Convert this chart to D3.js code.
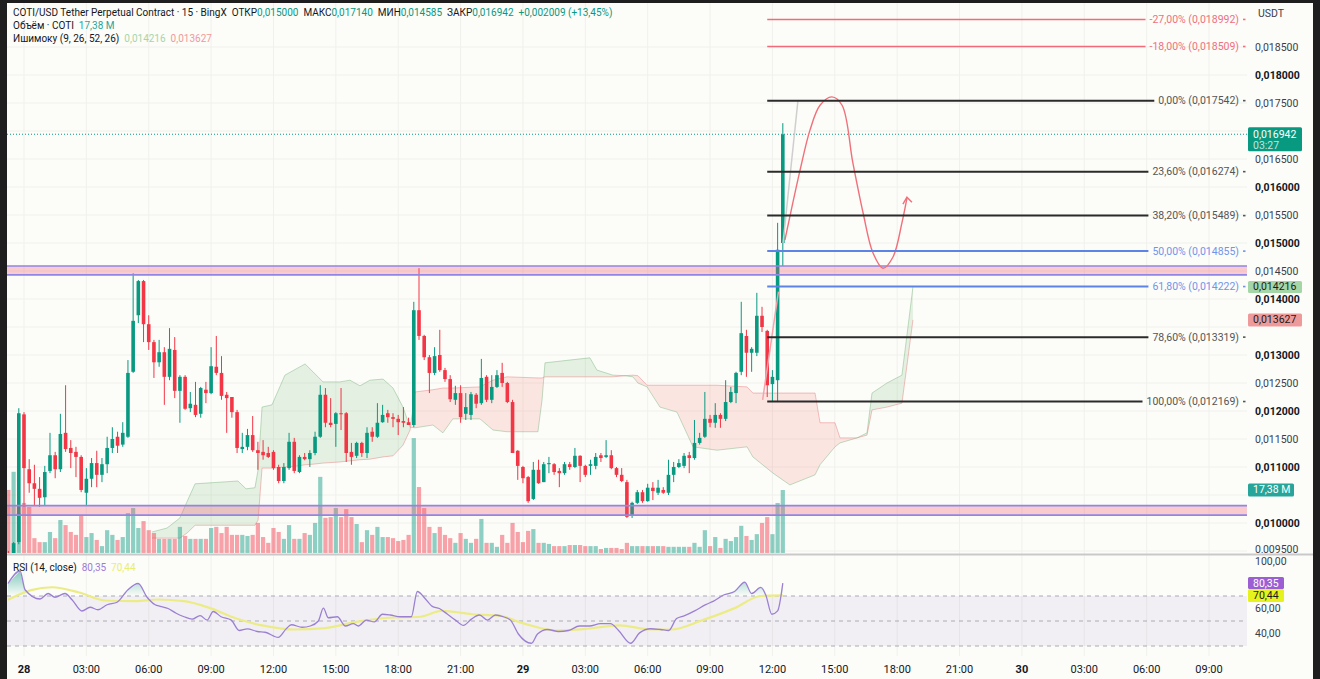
<!DOCTYPE html>
<html><head><meta charset="utf-8">
<script src="https://cdn.jsdelivr.net/npm/d3@7"></script>
<style>
body{margin:0;background:#1e1e1e}
svg{display:block}
text{font-family:Roboto,"Liberation Sans",sans-serif}
</style></head>
<body><svg id="c" width="1320" height="679"></svg>
<script>
// ---------------- DATA ----------------
const timeLabels = ["28","03:00","06:00","09:00","12:00","15:00","18:00","21:00","29","03:00","06:00","09:00","12:00","15:00","18:00","21:00","30","03:00","06:00","09:00"];
const timeLabelHours = [0,3,6,9,12,15,18,21,24,27,30,33,36,39,42,45,48,51,54,57];
const boldTimeLabels = ["28","29","30"];
const firstBarHour = -0.75, barHours = 0.25;   // 15-minute bars
const priceTicks = [0.0095,0.0100,0.0105,0.0110,0.0115,0.0120,0.0125,0.0130,0.0135,0.0140,0.0145,0.0150,0.0155,0.0160,0.0165,0.0170,0.0175,0.0180,0.0185];
// [open, high, low, close]
const ohlc = [
[0.00945,0.00950,0.00925,0.00930],[0.00943,0.00966,0.00941,0.00964],[0.00966,0.01205,0.00962,0.01196],[0.01194,0.01198,0.01029,0.01098],[0.01096,0.01114,0.01054,0.01071],
[0.01071,0.01104,0.01032,0.01061],[0.01061,0.01082,0.01029,0.01045],[0.01046,0.01102,0.01032,0.01091],[0.01093,0.01161,0.01089,0.01121],[0.01121,0.01127,0.01080,0.01096],
[0.01096,0.01195,0.01091,0.01159],[0.01161,0.01246,0.01127,0.01132],[0.01134,0.01148,0.01098,0.01125],[0.01127,0.01136,0.01082,0.01118],[0.01118,0.01121,0.01055,0.01059],
[0.01054,0.01098,0.01032,0.01079],[0.01079,0.01116,0.01064,0.01107],[0.01107,0.01129,0.01064,0.01086],[0.01086,0.01116,0.01073,0.01105],[0.01105,0.01154,0.01089,0.01134],
[0.01134,0.01171,0.01125,0.01150],[0.01154,0.01163,0.01125,0.01138],[0.01140,0.01180,0.01136,0.01161],[0.01154,0.01291,0.01152,0.01268],[0.01270,0.01446,0.01268,0.01361],
[0.01371,0.01434,0.01357,0.01432],[0.01432,0.01434,0.01323,0.01355],[0.01355,0.01371,0.01309,0.01323],[0.01323,0.01327,0.01259,0.01287],[0.01287,0.01327,0.01279,0.01305],
[0.01305,0.01314,0.01211,0.01261],[0.01261,0.01348,0.01255,0.01311],[0.01309,0.01332,0.01223,0.01236],[0.01236,0.01264,0.01179,0.01261],[0.01261,0.01264,0.01202,0.01204],
[0.01205,0.01234,0.01198,0.01213],[0.01211,0.01252,0.01189,0.01193],[0.01195,0.01243,0.01188,0.01241],[0.01238,0.01252,0.01214,0.01232],[0.01232,0.01314,0.01230,0.01280],
[0.01279,0.01334,0.01264,0.01268],[0.01268,0.01298,0.01220,0.01227],[0.01229,0.01234,0.01161,0.01223],[0.01225,0.01225,0.01188,0.01198],[0.01198,0.01202,0.01125,0.01134],
[0.01132,0.01161,0.01125,0.01136],[0.01136,0.01168,0.01130,0.01157],[0.01157,0.01191,0.01127,0.01130],[0.01130,0.01145,0.01095,0.01125],[0.01127,0.01148,0.01113,0.01121],
[0.01125,0.01136,0.01116,0.01118],[0.01127,0.01130,0.01095,0.01098],[0.01100,0.01104,0.01071,0.01075],[0.01075,0.01107,0.01071,0.01100],[0.01098,0.01161,0.01095,0.01145],
[0.01145,0.01152,0.01089,0.01093],[0.01091,0.01121,0.01089,0.01118],[0.01118,0.01125,0.01112,0.01114],[0.01114,0.01130,0.01100,0.01125],[0.01125,0.01163,0.01121,0.01154],
[0.01154,0.01246,0.01152,0.01229],[0.01229,0.01241,0.01171,0.01179],[0.01179,0.01223,0.01171,0.01175],[0.01177,0.01198,0.01136,0.01196],[0.01196,0.01241,0.01166,0.01195],
[0.01196,0.01198,0.01109,0.01125],[0.01127,0.01143,0.01104,0.01118],[0.01120,0.01145,0.01116,0.01143],[0.01143,0.01145,0.01118,0.01125],[0.01125,0.01171,0.01116,0.01161],
[0.01163,0.01171,0.01145,0.01154],[0.01154,0.01214,0.01152,0.01179],[0.01180,0.01211,0.01179,0.01193],[0.01196,0.01202,0.01179,0.01189],[0.01189,0.01196,0.01171,0.01186],
[0.01186,0.01193,0.01157,0.01180],[0.01182,0.01207,0.01171,0.01179],[0.01180,0.01188,0.01177,0.01175],[0.01175,0.01395,0.01171,0.01380],[0.01380,0.01455,0.01327,0.01334],
[0.01334,0.01336,0.01291,0.01296],[0.01296,0.01300,0.01232,0.01268],[0.01268,0.01314,0.01264,0.01298],[0.01300,0.01345,0.01270,0.01273],[0.01273,0.01277,0.01252,0.01257],
[0.01257,0.01264,0.01216,0.01221],[0.01220,0.01245,0.01211,0.01232],[0.01232,0.01246,0.01179,0.01189],[0.01195,0.01232,0.01184,0.01207],[0.01193,0.01234,0.01184,0.01230],
[0.01229,0.01232,0.01205,0.01213],[0.01214,0.01293,0.01211,0.01259],[0.01261,0.01264,0.01216,0.01220],[0.01220,0.01264,0.01214,0.01243],[0.01243,0.01273,0.01241,0.01264],
[0.01268,0.01286,0.01243,0.01250],[0.01250,0.01252,0.01214,0.01216],[0.01216,0.01220,0.01125,0.01125],[0.01129,0.01130,0.01077,0.01102],[0.01100,0.01102,0.01071,0.01080],
[0.01082,0.01084,0.01036,0.01039],[0.01043,0.01109,0.01041,0.01095],[0.01095,0.01113,0.01070,0.01071],[0.01073,0.01109,0.01073,0.01105],[0.01105,0.01118,0.01089,0.01107],
[0.01105,0.01107,0.01086,0.01091],[0.01093,0.01098,0.01064,0.01089],[0.01089,0.01109,0.01086,0.01105],[0.01105,0.01109,0.01095,0.01100],[0.01100,0.01134,0.01098,0.01120],
[0.01120,0.01121,0.01073,0.01102],[0.01102,0.01104,0.01082,0.01086],[0.01102,0.01113,0.01086,0.01105],[0.01102,0.01125,0.01096,0.01118],[0.01121,0.01125,0.01109,0.01116],
[0.01118,0.01148,0.01116,0.01121],[0.01121,0.01130,0.01096,0.01098],[0.01098,0.01100,0.01082,0.01086],[0.01086,0.01098,0.01073,0.01075],[0.01073,0.01077,0.01009,0.01011],
[0.01013,0.01038,0.01009,0.01036],[0.01036,0.01059,0.01034,0.01055],[0.01055,0.01059,0.01036,0.01039],[0.01039,0.01070,0.01038,0.01063],[0.01063,0.01073,0.01041,0.01057],
[0.01054,0.01077,0.01050,0.01063],[0.01059,0.01064,0.01052,0.01054],[0.01054,0.01113,0.01050,0.01086],[0.01086,0.01109,0.01073,0.01100],[0.01100,0.01114,0.01098,0.01107],
[0.01102,0.01125,0.01098,0.01120],[0.01121,0.01127,0.01089,0.01116],[0.01116,0.01184,0.01113,0.01143],[0.01143,0.01161,0.01140,0.01152],[0.01154,0.01234,0.01152,0.01186],
[0.01186,0.01193,0.01171,0.01179],[0.01179,0.01214,0.01170,0.01193],[0.01193,0.01196,0.01170,0.01186],[0.01186,0.01255,0.01182,0.01216],[0.01216,0.01243,0.01214,0.01234],
[0.01232,0.01270,0.01214,0.01268],[0.01270,0.01395,0.01264,0.01339],[0.01334,0.01345,0.01261,0.01304],[0.01304,0.01314,0.01270,0.01311],[0.01304,0.01411,0.01298,0.01370],
[0.01370,0.01386,0.01341,0.01350],[0.01343,0.01345,0.01225,0.01246],[0.01248,0.01273,0.01216,0.01261],[0.01255,0.01536,0.01216,0.01488],[0.01500,0.01714,0.01459,0.01694]
];
// volume, millions
const volume = [17.4,22.4,11,13.8,12.7,4.1,3.0,3.0,5.8,4.1, 9.1,7.7,5.8,5.0,10.5,4.4,5.5,3.6,1.9,6.3,
 5.0,3.6,4.4,11.0,12.4,6.9,8.8,6.3,5.5,3.9, 3.9,3.9,3.9,7.2,4.7,3.9,3.9,3.9,3.9,6.9,
 7.2,5.5,7.2,5.0,5.0,5.0,4.7,5.0,8.3,4.4, 2.8,6.9,5.8,3.9,7.7,3.9,3.9,5.5,5.0,8.3,
 21.0,9.7,9.9,12.4,9.9,12.1,9.9,8.0,3.0,6.3, 5.0,7.2,4.4,4.4,4.1,3.3,3.6,5.0,31.7,18.2,
 12.4,7.2,5.5,7.2,5.0,4.1,2.8,5.5,3.9,2.8, 3.9,9.4,2.8,2.8,1.7,5.0,2.8,8.3,5.8,3.0,
 6.1,6.6,2.8,2.8,2.5,1.9,1.9,1.9,2.2,2.2, 2.2,1.9,1.9,1.9,1.1,1.4,1.4,1.4,1.1,2.8,
 1.9,1.9,1.9,1.9,1.9,1.9,1.9,1.7,1.7,1.7, 1.7,1.7,2.8,1.7,6.3,1.9,4.4,1.4,3.9,3.3,
 4.4,7.5,4.7,3.6,5.2,8.3,9.9,5.2,13.8,17.38];
// Ichimoku cloud: [hour, senkou A, senkou B]
const cloud = [
[6.16,0.00984,0.00973],[6.88,0.00991,0.00973],[7.50,0.01009,0.00973],[7.84,0.01038,0.00982],[8.23,0.01070,0.00996],
[10.29,0.01075,0.00996],[10.68,0.01061,0.00996],[11.11,0.01063,0.00996],[11.26,0.01095,0.01005],[11.45,0.01207,0.01098],
[11.93,0.01211,0.01098],[12.55,0.01264,0.01100],[13.18,0.01277,0.01102],[13.52,0.01284,0.01104],[13.90,0.01270,0.01105],
[14.38,0.01252,0.01107],[15.20,0.01252,0.01109],[15.68,0.01255,0.01111],[16.16,0.01245,0.01113],[16.64,0.01255,0.01114],
[17.27,0.01257,0.01118],[17.75,0.01241,0.01120],[18.23,0.01207,0.01139],[18.57,0.01171,0.01166],[18.81,0.01170,0.01234],
[19.67,0.01175,0.01238],[20.15,0.01161,0.01241],[20.63,0.01186,0.01241],[21.93,0.01186,0.01243],[22.56,0.01166,0.01255],
[23.23,0.01163,0.01261],[24.72,0.01163,0.01259],[24.92,0.01220,0.01259],[25.06,0.01286,0.01261],[27.22,0.01295,0.01261],
[27.56,0.01273,0.01261],[28.33,0.01264,0.01261],[28.91,0.01263,0.01263],[29.29,0.01261,0.01264],[29.53,0.01250,0.01263],
[29.97,0.01243,0.01246],[30.59,0.01207,0.01246],[31.41,0.01198,0.01246],[32.18,0.01136,0.01246],[33.33,0.01130,0.01246],
[34.78,0.01136,0.01243],[35.06,0.01118,0.01232],[36.03,0.01089,0.01232],[36.84,0.01068,0.01232],[38.05,0.01086,0.01232],
[38.29,0.01104,0.01179],[39.01,0.01136,0.01179],[39.25,0.01143,0.01152],[40.07,0.01152,0.01152],[40.55,0.01161,0.01157],
[40.79,0.01232,0.01202],[41.51,0.01250,0.01207],[42.23,0.01264,0.01214],[42.76,0.014216,0.013627]
];
// RSI(14) [hour, value] and its moving average
const rsi = [[-0.77,80],[-0.19,90],[0.05,75],[0.77,67.6],[1.16,72],[1.49,69],[1.97,72],[2.31,67],[2.79,58],[3.18,61],[3.56,59],[4.0,63],[4.48,65],[5.0,75],[5.49,80],[5.92,69],[6.31,63],
[6.55,61.7],[6.93,60],[7.32,56.2],[7.7,53.4],[8.09,51.5],[8.47,54.3],[8.81,50.7],[9.1,57.6],[9.48,53.4],[9.97,50.7],[10.35,42.4],[10.74,43.7],[11.22,41.6],[11.6,41],[12.23,36.9],[12.61,43.7],[12.86,47],[13.38,45],[13.77,46],[14.16,50],[14.4,60.3],[14.64,52.6],[15.07,53.4],[15.46,46],[15.84,47.9],[16.08,46],[16.47,50.7],[16.85,49.3],[17.24,55.4],[17.62,54.8],[18.1,53.4],[18.63,53.4],[18.92,73.6],[19.26,68.6],[19.64,61.7],[19.98,60],[20.37,55.4],[20.75,50.7],[21.14,46.5],[21.52,51.5],[21.91,54.8],[22.29,50.7],[22.68,54.8],[23.06,53.4],[23.4,50.7],[23.78,39.6],[24.41,32.2],[24.7,39.6],[25.18,43.2],[25.71,41.6],[26.19,42.4],[26.72,46],[27.2,46],[27.73,47.9],[28.21,47.9],[28.6,42.4],[29.18,32.2],[29.61,40.5],[30.14,43.8],[30.62,43.2],[31.01,42.4],[31.39,52],[31.78,54.3],[32.26,58.1],[32.79,63.1],[33.17,65.9],[33.65,70.8],[34.18,73.6],[34.67,81],[35.0,72],[35.44,76.9],[35.68,70.8],[35.97,55.4],[36.25,58.1],[36.5,80.35]];
const rsiMA = [[-0.77,67],[0.34,74.7],[1.35,77],[2.65,72.8],[3.9,66.4],[5.39,65.9],[6.4,67.2],[7.7,65.9],[8.96,60.3],[10.21,52],[11.46,46.5],[12.95,43.2],[14.49,44.3],[15.98,49.3],[17.53,52.6],[19.07,53.4],[20.08,58.1],[21.57,55.4],[22.82,54.3],[24.07,47.9],[25.57,42.4],[27.11,43.8],[28.65,46.5],[30.14,43.2],[31.15,43.2],[32.64,50.7],[34.18,60.3],[35.44,70],[36.5,70.44]];
// Fibonacci retracement
const fibLabels = ["-27,00%","-18,00%","0,00%","23,60%","38,20%","50,00%","61,80%","78,60%","100,00%"];
const fibPrices = [0.018992,0.018509,0.017542,0.016274,0.015489,0.014855,0.014222,0.013319,0.012169];
const fibKinds  = ["red","red","black","black","black","blue","blue","black","black"];
const fibStartHour = 35.75;
// horizontal zones [top, bottom]
const zones = [[0.01459,0.01443],[0.01031,0.01014]];
// drawn path (forecast) [hour, price]
const forecast = [[36.60,0.01505],[37.33,0.01630],[37.81,0.01702],[38.29,0.01746],[38.86,0.01761],[39.35,0.01746],[39.87,0.01643],[40.36,0.01554],[40.84,0.01482],[41.32,0.01455],[41.80,0.01475],[42.23,0.01536],[42.47,0.01580]];
const greyTrend = [[36.51,0.01500],[37.23,0.01755]];
const pinkTrend = [[35.53,0.01220],[36.29,0.01413]];
const lastClose = 0.016942, spanANow = 0.014216, spanBNow = 0.013627, lastVolume = 17.38, rsiNow = 80.35, rsiMANow = 70.44;

// ---------------- DRAW ----------------
const svg = d3.select("#c");
const UP="#089981", DN="#f23645";
const L=7, R=1247, TOP=3, PB=553;
const x = d3.scaleLinear([0,57],[24,1209]);
const y = d3.scaleLinear([0.0095,0.0185],[551,47]);
const yv = d3.scaleLinear([0,40],[PB,408]);
const yr = d3.scaleLinear([30,70],[646,596]);
const fmt = v => v.toFixed(6).replace(".",",");
const fmt2 = v => v.toFixed(2).replace(".",",");

svg.append("rect").attr("x",L).attr("y",TOP).attr("width",1313-L).attr("height",679-TOP).attr("fill","#fcfcf9");
const defs = svg.append("defs");
defs.append("clipPath").attr("id","pp").append("rect").attr("x",L).attr("y",TOP).attr("width",R-L).attr("height",PB-TOP);
defs.append("clipPath").attr("id","rp").append("rect").attr("x",L).attr("y",556).attr("width",R-L).attr("height",100);
defs.append("clipPath").attr("id","axp").append("rect").attr("x",1247).attr("y",TOP).attr("width",66).attr("height",PB-TOP);

// grid
const grid = svg.append("g").attr("stroke","#f0f0ec").attr("stroke-width",1);
timeLabelHours.forEach(h=>grid.append("line").attr("x1",x(h)).attr("x2",x(h)).attr("y1",TOP).attr("y2",656));
priceTicks.forEach(p=>grid.append("line").attr("x1",L).attr("x2",R).attr("y1",y(p)).attr("y2",y(p)));

const pp = svg.append("g").attr("clip-path","url(#pp)");

// cloud
const cx = d=>x(d[0]);
defs.append("clipPath").attr("id","cAbove").append("path").attr("d",d3.area().x(cx).y0(0).y1(d=>y(d[2]))(cloud));
defs.append("clipPath").attr("id","cBelow").append("path").attr("d",d3.area().x(cx).y0(700).y1(d=>y(d[2]))(cloud));
pp.append("path").attr("d",d3.area().x(cx).y0(d=>y(d[1])).y1(700)(cloud)).attr("clip-path","url(#cAbove)").attr("fill","rgba(67,160,71,0.13)");
pp.append("path").attr("d",d3.area().x(cx).y0(d=>y(d[1])).y1(0)(cloud)).attr("clip-path","url(#cBelow)").attr("fill","rgba(244,67,54,0.12)");
pp.append("path").attr("d",d3.line().x(cx).y(d=>y(d[1]))(cloud)).attr("fill","none").attr("stroke","rgba(120,180,125,0.45)").attr("stroke-width",1);
pp.append("path").attr("d",d3.line().x(cx).y(d=>y(d[2]))(cloud)).attr("fill","none").attr("stroke","rgba(230,120,120,0.45)").attr("stroke-width",1);

// volume
const bars = ohlc.map((d,i)=>({t:firstBarHour+i*barHours,o:d[0],h:d[1],l:d[2],c:d[3],v:volume[i]}));
pp.append("g").selectAll("rect").data(bars).join("rect")
  .attr("x",d=>x(d.t)-2.1).attr("width",4.2)
  .attr("y",d=>yv(d.v)).attr("height",d=>PB-yv(d.v))
  .attr("fill",d=>d.c>=d.o?"rgba(8,153,129,0.45)":"rgba(242,54,69,0.45)");

// candles
const cg = pp.append("g");
cg.selectAll("line").data(bars).join("line")
  .attr("x1",d=>x(d.t)).attr("x2",d=>x(d.t)).attr("y1",d=>y(d.h)).attr("y2",d=>y(d.l))
  .attr("stroke",d=>d.c>=d.o?UP:DN).attr("stroke-width",1);
cg.selectAll("rect").data(bars).join("rect")
  .attr("x",d=>x(d.t)-1.8).attr("width",3.6)
  .attr("y",d=>y(Math.max(d.o,d.c))).attr("height",d=>Math.max(1,Math.abs(y(d.o)-y(d.c))))
  .attr("fill",d=>d.c>=d.o?UP:DN);

// zones
zones.forEach(z=>{
  pp.append("rect").attr("x",L).attr("width",R-L).attr("y",y(z[0])).attr("height",y(z[1])-y(z[0]))
    .attr("fill","rgba(242,90,110,0.3)");
  [z[0],z[1]].forEach(p=>pp.append("line").attr("x1",L).attr("x2",R).attr("y1",y(p)).attr("y2",y(p))
    .attr("stroke","#8f86e6").attr("stroke-width",1.6));
});

// current price dotted line
pp.append("line").attr("x1",L).attr("x2",R).attr("y1",y(lastClose)).attr("y2",y(lastClose))
  .attr("stroke",UP).attr("stroke-width",1).attr("stroke-dasharray","1,2");

// trend lines
const lp = d3.line().x(d=>x(d[0])).y(d=>y(d[1]));
pp.append("path").attr("d",lp(greyTrend)).attr("stroke","#cfcfcf").attr("stroke-width",1.5).attr("fill","none");
pp.append("path").attr("d",lp(pinkTrend)).attr("stroke","#f3a3aa").attr("stroke-width",1.5).attr("fill","none");

// fib
const fibCol = {red:"#f26b7a",black:"#2b2b2b",blue:"#5b84e6"};
const fibTxt = {red:"#f0707e",black:"#555",blue:"#7194ea"};
const fg = svg.append("g");
fibPrices.forEach((p,i)=>{
  const k=fibKinds[i];
  const t = fg.append("text").attr("x",1239).attr("y",y(p)).attr("text-anchor","end").attr("dominant-baseline","central")
    .attr("font-size",10.5).attr("fill",fibTxt[k]).text(fibLabels[i]+" ("+fmt(p)+")");
  const w = t.node().getComputedTextLength();
  fg.append("line").attr("x1",x(fibStartHour)).attr("x2",1239-w-4).attr("y1",y(p)).attr("y2",y(p))
    .attr("stroke",fibCol[k]).attr("stroke-width",k==="red"?1.5:2);
  fg.append("rect").attr("x",1243).attr("y",y(p)-0.8).attr("width",2.5).attr("height",1.6).attr("fill",fibTxt[k]);
});

// forecast curve
pp.append("path").attr("d",d3.line().x(d=>x(d[0])).y(d=>y(d[1])).curve(d3.curveCatmullRom)(forecast))
  .attr("fill","none").attr("stroke","#f0707a").attr("stroke-width",1.4);
const tip = forecast[forecast.length-1];
pp.append("path").attr("d",`M${x(tip[0])-4},${y(tip[1])+6}L${x(tip[0])},${y(tip[1])-1}L${x(tip[0])+5},${y(tip[1])+4}`)
  .attr("fill","none").attr("stroke","#f0707a").attr("stroke-width",1.4);

// separator
svg.append("line").attr("x1",L).attr("x2",1313).attr("y1",554.5).attr("y2",554.5).attr("stroke","#c9c9c9").attr("stroke-width",2);

// RSI pane
const rp = svg.append("g").attr("clip-path","url(#rp)");
rp.append("rect").attr("x",L).attr("width",R-L).attr("y",yr(70)).attr("height",yr(30)-yr(70)).attr("fill","rgba(126,87,194,0.08)");
[70,50,30].forEach(v=>rp.append("line").attr("x1",L).attr("x2",R).attr("y1",yr(v)).attr("y2",yr(v))
  .attr("stroke","#a9aab3").attr("stroke-width",1).attr("stroke-dasharray","4,4"));
const gr = defs.append("linearGradient").attr("id","ob").attr("gradientUnits","userSpaceOnUse")
  .attr("x1",0).attr("x2",0).attr("y1",yr(100)).attr("y2",yr(70));
gr.append("stop").attr("offset",0).attr("stop-color","#089981").attr("stop-opacity",0.75);
gr.append("stop").attr("offset",1).attr("stop-color","#089981").attr("stop-opacity",0);
defs.append("clipPath").attr("id","ob70").append("rect").attr("x",0).attr("y",0).attr("width",1320).attr("height",yr(70));
rp.append("path").attr("d",d3.area().x(d=>x(d[0])).y0(yr(70)).y1(d=>yr(d[1]))(rsi))
  .attr("fill","url(#ob)").attr("clip-path","url(#ob70)");
rp.append("path").attr("d",d3.line().x(d=>x(d[0])).y(d=>yr(d[1])).curve(d3.curveMonotoneX)(rsiMA))
  .attr("fill","none").attr("stroke","#ecec86").attr("stroke-width",2.2);
rp.append("path").attr("d",d3.line().x(d=>x(d[0])).y(d=>yr(d[1])).curve(d3.curveMonotoneX)(rsi))
  .attr("fill","none").attr("stroke","#9b80d2").attr("stroke-width",1.3);

// price axis (labels under the value boxes are hidden, as on the chart)
const covered = [y(lastClose)+5, y(spanBNow), yv(lastVolume)];
const ax = svg.append("g").attr("font-size",10.5).attr("fill","#131722");
const axp = ax.append("g").attr("clip-path","url(#axp)");
priceTicks.forEach(p=>{
  if (covered.some(c=>Math.abs(c-y(p))<10)) return;
  const bold = Math.abs(p*1000-Math.round(p*1000))<1e-9;
  axp.append("text").attr("x",1255).attr("y",y(p)+(p<0.0096?-2:0)).attr("dominant-baseline","central")
    .attr("font-weight",bold?"bold":"normal").attr("fill",bold?"#131722":"#3a3e4a").text(fmt(p));
});
ax.append("text").attr("x",1258).attr("y",13).attr("dominant-baseline","central").attr("fill","#3a3e4a").text("USDT");
[[100,"100,00",3],[60,"60,00",0],[40,"40,00",0]].forEach(d=>ax.append("text").attr("x",1255).attr("y",yr(d[0])+d[2]).attr("dominant-baseline","central").attr("fill","#3a3e4a").text(d[1]));

function box(yc,h,w,fill,txt,col){
  svg.append("rect").attr("x",1248).attr("y",yc-h/2).attr("width",w).attr("height",h).attr("rx",1.5).attr("fill",fill);
  svg.append("text").attr("x",1253).attr("y",yc).attr("dominant-baseline","central").attr("font-size",10.5).attr("fill",col).text(txt);
}
svg.append("rect").attr("x",1248).attr("y",y(lastClose)-7).attr("width",54).attr("height",24).attr("rx",1.5).attr("fill",UP);
svg.append("text").attr("x",1253).attr("y",y(lastClose)).attr("dominant-baseline","central").attr("font-size",10.5).attr("fill","#fff").text(fmt(lastClose));
svg.append("text").attr("x",1253).attr("y",y(lastClose)+11).attr("dominant-baseline","central").attr("font-size",10.5).attr("fill","rgba(255,255,255,0.75)").text("03:27");
box(y(spanANow),12,54,"#a5d6a7",fmt(spanANow),"#1b1b1b");
box(y(spanBNow),13,54,"#ef9a9a",fmt(spanBNow),"#1b1b1b");
box(yv(lastVolume),13,46,"#26a69a",fmt2(lastVolume)+" M","#fff");
box(yr(rsiNow),12,36,"#9c5fd3",fmt2(rsiNow),"#fff");
box(yr(rsiMANow),13,36,"#e5f21d",fmt2(rsiMANow),"#1b1b1b");

// time axis
timeLabels.forEach((t,i)=>svg.append("text").attr("x",x(timeLabelHours[i])).attr("y",669).attr("text-anchor","middle")
  .attr("dominant-baseline","central").attr("font-size",11).attr("font-weight",boldTimeLabels.includes(t)?"bold":"normal")
  .attr("fill","#131722").text(t));

// legend
function legend(yy,parts){
  const t = svg.append("text").attr("x",13).attr("y",yy).attr("dominant-baseline","central").attr("font-size",10);
  parts.forEach(p=>t.append("tspan").attr("fill",p[1]).text(p[0]));
}
legend(12,[["COTI/USD Tether Perpetual Contract · 15 · BingX  ","#131722"],["ОТКР","#131722"],["0,015000  ",UP],["МАКС","#131722"],["0,017140  ",UP],["МИН","#131722"],["0,014585  ",UP],["ЗАКР","#131722"],["0,016942  ",UP],["+0,002009 (+13,45%)",UP]]);
legend(25,[["Объём · COTI  ","#131722"],["17,38 M","#26a69a"]]);
legend(38,[["Ишимоку (9, 26, 52, 26)  ","#131722"],["0,014216  ","#a5d6a7"],["0,013627","#ef9a9a"]]);
legend(567,[["RSI (14, close)  ","#131722"],["80,35  ","#9c7bd6"],["70,44","#e8ee70"]]);
svg.selectAll("text").attr("xml:space","preserve");
</script></body></html>
